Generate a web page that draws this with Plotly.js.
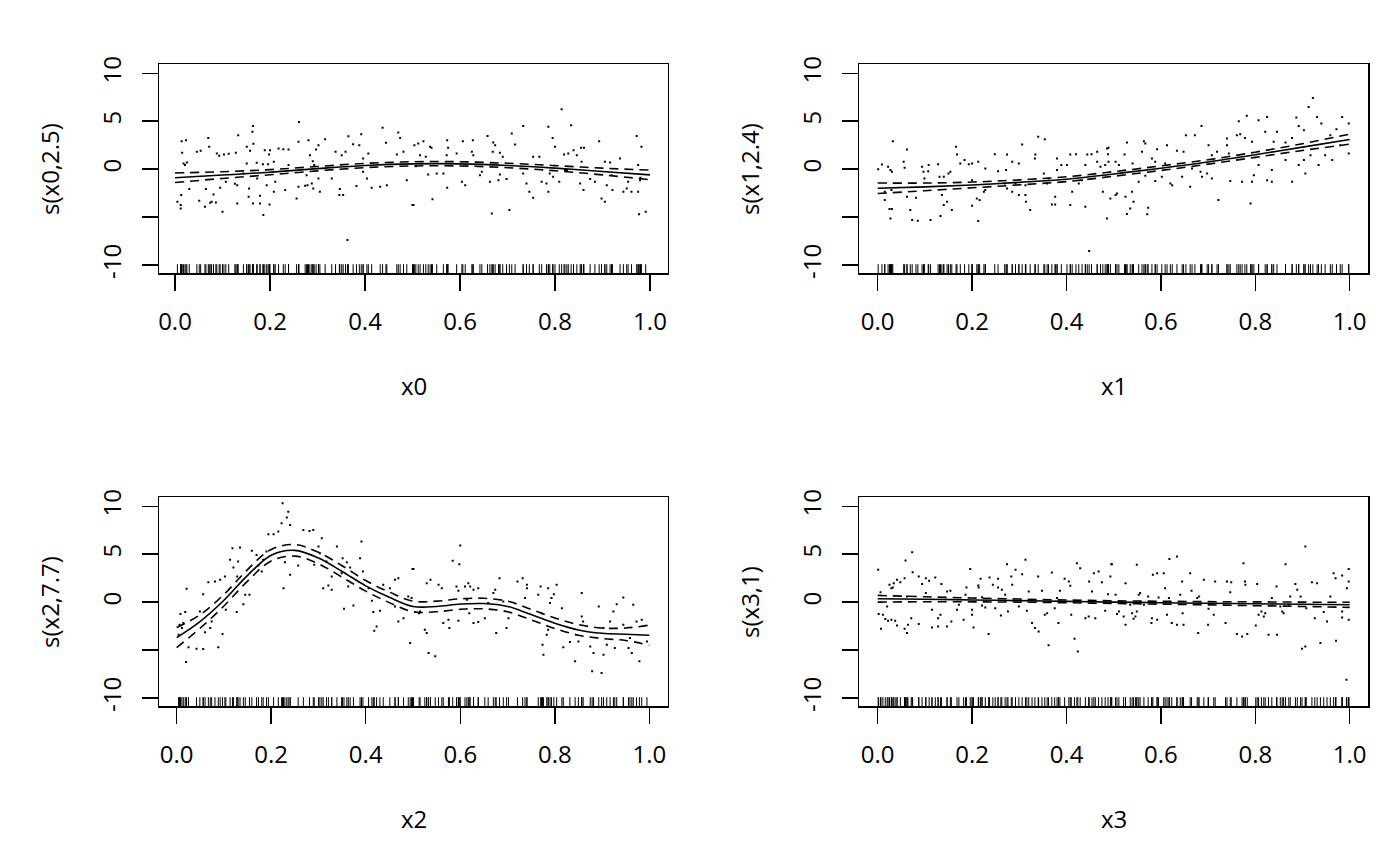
<!DOCTYPE html>
<html>
<head>
<meta charset="utf-8">
<script src="https://cdn.plot.ly/plotly-3.0.1.min.js"></script>
<style>
  html, body { margin: 0; padding: 0; background: #fff; }
  #gd { width: 1400px; height: 866px; }
</style>
</head>
<body>
<div id="gd"></div>
<script>
// partial residuals as [x, y]
const resid0 = [[.014,2.92],[.023,3.02],[.015,1.70],[.025,0.69],[.018,0.59],[.021,0.42],[.005,-3.40],[.012,-3.75],[.012,-4.10],[.013,-2.71],[.030,-2.08],[.051,-3.30],[.063,-3.92],[.074,-3.51],[.077,-3.40],[.086,-3.47],[.081,-2.64],[.065,-2.08],[.046,1.81],[.054,1.91],[.072,2.33],[.070,3.26],[.088,1.63],[.093,1.39],[.103,1.53],[.113,1.60],[.128,1.70],[.133,3.54],[.151,2.33],[.163,3.89],[.164,4.51],[.165,2.64],[.158,1.91],[.151,0.59],[.144,-0.45],[.131,-1.67],[.126,-1.53],[.107,-1.32],[.095,-1.94],[.100,-4.44],[.131,-3.58],[.155,-2.88],[.156,-2.01],[.164,-3.58],[.179,-3.58],[.186,-4.79],[.179,-2.78],[.199,-3.68],[.193,-1.67],[.173,-0.97],[.172,0.66],[.185,0.52],[.196,0.52],[.198,1.53],[.189,1.98],[.200,1.98],[.218,2.15],[.228,2.08],[.239,2.05],[.208,0.76],[.211,-1.32],[.208,-2.36],[.232,-2.19],[.239,0.42],[.256,-3.06],[.261,4.93],[.260,2.85],[.281,3.02],[.302,2.50],[.297,2.05],[.316,3.13],[.284,1.46],[.290,0.83],[.293,0.42],[.277,-0.63],[.260,-1.84],[.274,-1.74],[.279,-1.67],[.288,-1.49],[.302,-0.97],[.291,-2.01],[.305,-2.36],[.330,-0.97],[.338,1.81],[.351,1.46],[.359,1.81],[.365,3.44],[.375,2.60],[.388,2.50],[.392,3.65],[.407,1.63],[.396,1.11],[.404,-0.97],[.396,-0.28],[.382,-1.77],[.347,-2.08],[.346,-2.71],[.354,-2.71],[.363,-7.40],[.414,-1.94],[.432,-1.84],[.446,-1.67],[.437,4.31],[.444,2.74],[.467,1.53],[.474,3.26],[.470,3.82],[.481,1.81],[.488,-1.15],[.504,2.50],[.512,2.67],[.502,-3.75],
[.523,2.92],[.537,2.33],[.540,2.22],[.528,1.28],[.516,1.46],[.507,0.31],[.533,-0.56],[.551,-0.45],[.565,-0.45],[.572,1.46],[.573,3.02],[.575,2.22],[.593,1.63],[.606,2.92],[.627,3.02],[.625,1.81],[.628,1.46],[.642,-0.63],[.646,-0.28],[.658,3.47],[.670,2.78],[.674,2.50],[.669,1.81],[.684,1.70],[.690,1.28],[.684,-0.56],[.698,-1.04],[.681,-1.15],[.663,-1.32],[.604,-1.32],[.611,-1.67],[.573,-1.94],[.542,-3.13],[.500,-3.75],[.667,-4.62],[.704,-4.27],[.709,3.72],[.733,4.51],[.716,2.57],[.733,-0.45],[.754,1.28],[.767,1.28],[.786,4.41],[.795,3.26],[.800,2.33],[.789,-0.45],[.796,-0.80],[.772,-1.32],[.782,-1.49],[.740,-1.49],[.746,-2.36],[.754,-2.99],[.786,-2.36],[.814,6.25],[.834,4.58],[.819,1.53],[.828,1.63],[.839,1.98],[.846,1.46],[.855,2.22],[.861,2.22],[.856,0.76],[.825,-0.10],[.809,-1.32],[.821,-0.10],[.853,-1.49],[.860,-2.19],[.874,-1.04],[.884,-1.32],[.893,2.92],[.905,0.76],[.916,0.69],[.937,1.11],[.919,-0.63],[.909,-1.67],[.898,-3.06],[.905,-3.40],[.921,-2.19],[.944,-2.36],[.951,-2.01],[.961,-2.36],[.975,-2.36],[.954,-1.32],[.979,-1.15],[.972,3.47],[.982,2.33],[.975,0.42],[.980,-0.90],[.977,-4.72],[.991,-4.44]];

const resid1 = [[.001,0.00],[.009,0.49],[.022,0.24],[.027,-0.10],[.030,-0.28],[.032,2.92],[.062,2.05],[.055,0.76],[.057,0.14],[.029,-2.19],[.015,-2.36],[.015,-3.23],[.025,-4.17],[.030,-4.17],[.027,-5.14],[.062,-2.88],[.069,-4.27],[.073,-5.31],[.085,-5.38],[.081,-2.99],[.094,0.24],[.097,-0.28],[.107,-0.21],[.099,-0.97],[.108,0.42],[.112,-5.31],[.128,0.52],[.131,-0.80],[.133,-4.90],[.140,-3.75],[.147,-3.40],[.136,-2.71],[.150,-0.45],[.154,-0.28],[.140,-0.80],[.157,-4.27],[.166,2.33],[.168,1.53],[.175,0.59],[.184,0.94],[.193,0.52],[.200,0.59],[.213,0.76],[.200,-1.15],[.210,-3.06],[.216,-3.23],[.225,-2.36],[.228,-2.19],[.213,-5.42],[.200,-3.82],[.228,0.07],[.248,1.56],[.255,-0.21],[.272,-0.10],[.274,1.53],[.285,0.76],[.299,0.59],[.306,2.57],[.314,-3.40],[.323,-4.27],[.313,-2.71],[.299,-2.71],[.285,-2.36],[.274,-2.01],[.269,-1.49],[.292,-1.49],[.313,-1.67],[.334,1.53],[.340,3.37],[.354,3.13],[.333,1.11],[.352,-0.45],[.362,-0.97],[.369,-3.68],[.376,-3.68],[.376,-2.88],[.359,-1.49],[.380,1.11],[.389,0.42],[.401,0.42],[.380,-0.10],[.408,-3.75],[.408,1.53],[.420,1.56],[.412,-2.36],[.426,-1.49],[.433,-1.15],[.440,0.42],[.444,1.53],[.453,1.56],[.465,1.81],[.465,0.76],[.472,0.24],[.477,-2.36],[.486,2.15],[.489,2.22],[.488,1.56],[.489,0.76],[.482,0.42],[.493,-3.06],[.486,-5.14],[.504,-2.71],[.511,0.42],[.448,-8.54],[.440,-3.92],
[.504,0.76],[.523,1.53],[.540,0.59],[.528,2.78],[.564,2.92],[.567,2.67],[.560,1.81],[.581,1.11],[.588,0.76],[.592,2.08],[.609,0.59],[.613,2.50],[.634,1.91],[.648,1.81],[.653,3.54],[.672,3.54],[.686,4.51],[.701,2.50],[.708,1.46],[.719,1.81],[.740,3.19],[.740,2.50],[.744,1.63],[.761,3.54],[.768,3.65],[.765,5.00],[.782,5.56],[.778,3.26],[.793,2.85],[.807,5.10],[.825,5.45],[.821,3.89],[.839,2.85],[.846,3.89],[.864,2.78],[.878,3.26],[.887,5.38],[.892,4.51],[.903,4.06],[.913,6.49],[.922,7.43],[.931,5.45],[.940,4.76],[.959,3.54],[.972,4.17],[.984,5.45],[.998,4.76],[.998,1.63],[.980,2.50],[.963,0.94],[.948,1.46],[.934,0.42],[.917,1.46],[.903,0.94],[.892,0.42],[.878,-1.32],[.864,0.94],[.835,-0.10],[.825,-1.15],[.835,-1.32],[.807,0.42],[.797,-0.63],[.793,-1.32],[.772,-1.32],[.747,-1.25],[.722,-3.23],[.708,-0.97],[.698,-0.45],[.684,-0.28],[.687,-0.80],[.666,0.07],[.662,-1.84],[.645,-0.80],[.624,-1.67],[.620,-1.49],[.602,-0.80],[.588,-1.25],[.567,-0.69],[.553,-1.32],[.539,-2.36],[.525,-2.88],[.542,-3.40],[.535,-4.10],[.528,-4.69],[.571,-4.72],[.573,-4.03],[.507,-2.53],[.790,-3.58],[.906,-0.45]];

const resid2 = [[.008,-1.25],[.018,-1.04],[.014,-2.19],[.006,-2.36],[.011,-2.71],[.004,-3.40],[.025,-4.72],[.020,-6.25],[.021,1.39],[.042,-4.86],[.056,-4.90],[.071,-2.71],[.074,-2.01],[.060,-3.13],[.049,-0.97],[.056,0.83],[.067,2.08],[.081,2.15],[.092,2.33],[.102,2.67],[.113,4.41],[.118,5.63],[.134,5.69],[.130,4.24],[.120,3.61],[.128,2.67],[.104,-0.80],[.097,-3.33],[.088,-4.72],[.127,-1.04],[.141,-0.21],[.145,0.76],[.154,0.76],[.159,5.35],[.169,4.93],[.173,3.82],[.180,3.19],[.183,4.41],[.190,5.28],[.194,7.08],[.205,7.08],[.215,7.36],[.222,8.23],[.224,10.31],[.233,8.82],[.236,9.44],[.240,8.06],[.229,4.17],[.226,1.46],[.240,2.85],[.257,3.82],[.268,7.53],[.281,7.43],[.289,7.53],[.291,3.89],[.300,5.80],[.307,6.67],[.303,5.10],[.310,1.46],[.321,1.74],[.328,1.28],[.317,4.24],[.328,2.67],[.339,5.80],[.351,4.58],[.360,4.17],[.367,3.61],[.349,3.02],[.354,-0.69],[.363,1.63],[.374,-0.35],[.391,6.32],[.388,4.58],[.394,3.19],[.406,1.46],[.413,0.14],[.416,-1.04],[.423,-2.53],[.418,-2.99],[.430,-0.90],[.437,1.81],[.451,1.46],[.462,2.33],[.469,2.50],[.462,-0.45],[.469,-2.01],[.480,-1.67],[.490,0.59],[.494,-4.27],[.501,3.47],[.513,-1.15],
[.499,3.47],[.497,0.42],[.525,-2.88],[.529,-3.23],[.533,-5.31],[.547,-5.66],[.515,-0.97],[.537,2.33],[.529,1.98],[.554,1.81],[.561,1.46],[.564,-2.19],[.577,-2.71],[.575,-1.84],[.584,4.31],[.598,3.96],[.600,5.90],[.592,1.63],[.596,1.18],[.610,1.63],[.617,1.98],[.621,1.63],[.614,0.24],[.638,1.46],[.628,1.28],[.619,-1.15],[.596,-1.94],[.628,-2.19],[.638,-2.08],[.652,-1.67],[.659,-0.10],[.670,0.94],[.674,1.28],[.676,-3.23],[.683,2.50],[.691,0.07],[.698,-2.71],[.702,-1.67],[.721,2.15],[.732,2.50],[.741,1.81],[.737,0.42],[.741,1.46],[.765,0.76],[.770,1.63],[.786,1.46],[.793,0.42],[.804,1.81],[.798,0.83],[.772,-1.15],[.774,-4.44],[.776,-5.49],[.783,-3.40],[.786,-2.88],[.790,-0.10],[.815,-0.63],[.818,-4.72],[.832,-4.17],[.843,-6.18],[.850,-4.10],[.857,0.94],[.857,-1.49],[.860,-2.01],[.875,-4.62],[.879,-7.22],[.882,-5.31],[.893,-0.45],[.903,-2.71],[.903,-5.49],[.910,-4.44],[.899,-7.40],[.917,-2.01],[.924,-0.97],[.927,-4.79],[.931,-0.21],[.945,0.49],[.945,-2.36],[.956,-4.79],[.959,-3.75],[.966,-0.28],[.963,-5.31],[.973,-2.01],[.979,-6.18],[.984,-1.84],[.995,-4.10]];

const resid3 = [[.001,3.37],[.006,1.04],[.002,-1.25],[.011,-1.32],[.016,-1.77],[.022,-1.94],[.029,-1.84],[.007,-2.78],[.020,-0.45],[.025,1.81],[.029,1.46],[.032,1.53],[.034,1.98],[.041,2.33],[.048,2.08],[.057,2.50],[.059,4.34],[.073,5.21],[.074,3.13],[.062,0.59],[.041,-2.43],[.037,-1.94],[.057,-2.78],[.062,-3.23],[.064,-2.36],[.071,-1.67],[.087,2.67],[.087,-2.29],[.094,1.88],[.102,0.94],[.102,2.50],[.109,2.22],[.115,-0.80],[.115,-2.64],[.128,-2.53],[.128,-1.67],[.133,-1.32],[.135,1.88],[.122,2.57],[.147,1.11],[.154,1.18],[.147,-2.53],[.156,-2.01],[.168,-0.80],[.172,-0.28],[.182,-1.84],[.188,1.53],[.186,0.76],[.196,3.47],[.200,-0.80],[.203,-2.64],[.200,-1.32],[.213,1.74],[.214,1.53],[.218,2.43],[.221,0.52],[.221,-0.35],[.228,-0.56],[.235,-3.33],[.237,2.57],[.244,1.81],[.255,2.43],[.255,1.53],[.249,-0.63],[.261,-1.39],[.263,1.28],[.270,0.76],[.274,3.96],[.276,-0.97],[.283,2.67],[.285,1.81],[.292,3.37],[.299,-0.45],[.306,2.92],[.313,4.41],[.316,-0.90],[.320,1.11],[.327,-2.19],[.333,-2.71],[.340,2.67],[.341,-3.06],[.348,1.18],[.354,-1.32],[.359,-1.15],[.362,-4.51],[.369,3.09],[.375,-0.63],[.380,0.42],[.383,-2.19],[.386,1.18],[.396,2.43],[.405,2.15],[.408,1.70],[.410,-1.32],[.417,-3.82],[.422,4.06],[.424,-5.14],[.429,3.54],[.440,-1.67],[.447,-1.49],[.448,2.15],[.454,1.11],[.458,3.02],[.461,-1.67],[.468,3.19],[.475,2.08],[.482,-0.90],[.488,0.83],[.493,2.67],[.495,3.96],[.504,0.76],[.507,-1.25],
[.496,3.96],[.511,-0.97],[.521,-1.49],[.525,-2.36],[.535,-0.28],[.539,-1.15],[.542,-1.74],[.546,-1.49],[.549,-0.97],[.553,0.76],[.556,0.94],[.549,3.89],[.525,1.98],[.564,-0.28],[.573,0.59],[.583,2.85],[.592,3.02],[.581,-1.67],[.580,-2.19],[.592,-1.84],[.595,0.49],[.606,3.02],[.609,1.46],[.613,-1.32],[.617,0.42],[.618,4.51],[.634,4.76],[.623,-2.19],[.634,-2.36],[.641,0.76],[.645,2.15],[.646,-1.15],[.648,-2.36],[.662,3.02],[.665,1.18],[.677,0.42],[.681,0.59],[.679,-3.23],[.691,2.33],[.700,-2.36],[.701,-0.69],[.712,-1.32],[.715,2.15],[.737,-2.19],[.740,2.15],[.749,2.08],[.747,1.04],[.761,-3.33],[.772,-3.58],[.775,4.06],[.778,2.15],[.779,1.81],[.783,-3.33],[.804,1.88],[.801,-2.43],[.807,-1.32],[.813,-0.97],[.818,-1.49],[.821,-1.15],[.828,-3.40],[.835,0.42],[.845,1.63],[.846,-3.40],[.853,-0.45],[.857,-0.97],[.860,-1.15],[.864,3.96],[.871,-0.28],[.874,0.59],[.885,1.88],[.889,1.28],[.896,0.59],[.899,-4.86],[.906,5.80],[.906,-4.62],[.908,-0.63],[.920,2.08],[.926,-1.67],[.931,1.98],[.938,-4.27],[.945,-1.04],[.952,-2.01],[.959,0.59],[.966,3.02],[.970,2.50],[.971,-4.03],[.984,-1.60],[.984,2.78],[.998,2.15],[.994,1.46],[.998,3.47],[.998,-1.84],[.993,-8.09],[.984,-0.97]];

// fitted smooths with +-2 se bands
const grid11 = [0, 0.1, 0.2, 0.3, 0.4, 0.5, 0.6, 0.7, 0.8, 0.9, 1.0];
const grid21 = [0, .05, .1, .15, .2, .25, .3, .35, .4, .45, .5, .55, .6, .65, .7, .75, .8, .85, .9, .95, 1.0];

const fit0 = [-0.9, -0.62, -0.32, 0.05, 0.38, 0.55, 0.55, 0.38, 0.1, -0.25, -0.6];
const up0  = [-0.4, -0.27, -0.05, 0.28, 0.6, 0.77, 0.77, 0.61, 0.37, 0.1, -0.1];
const lo0  = [-1.4, -0.97, -0.59, -0.18, 0.16, 0.33, 0.33, 0.15, -0.17, -0.6, -1.1];

const fit1 = [-2.0, -1.85, -1.65, -1.38, -1.05, -0.5, 0.1, 0.75, 1.5, 2.3, 3.1];
const up1  = [-1.45, -1.45, -1.35, -1.12, -0.8, -0.26, 0.34, 0.98, 1.77, 2.65, 3.65];
const lo1  = [-2.55, -2.25, -1.95, -1.64, -1.3, -0.74, -0.14, 0.52, 1.23, 1.95, 2.6];

const fit2 = [-3.7, -2.0, 0.2, 2.8, 4.9, 5.4, 4.6, 3.2, 1.7, 0.5, -0.45, -0.45, -0.2, -0.15, -0.45, -1.3, -2.2, -2.9, -3.25, -3.35, -3.45];
const up2  = [-2.65, -1.3, 0.8, 3.4, 5.5, 6.0, 5.2, 3.8, 2.25, 1.05, 0.1, 0.1, 0.35, 0.4, 0.1, -0.75, -1.65, -2.35, -2.7, -2.7, -2.4];
const lo2  = [-4.75, -2.7, -0.4, 2.2, 4.3, 4.8, 4.0, 2.6, 1.15, -0.05, -1.0, -1.0, -0.75, -0.7, -1.0, -1.85, -2.75, -3.45, -3.8, -4.0, -4.5];

const fit3 = [0.35, 0.3, 0.23, 0.16, 0.08, 0.0, -0.06, -0.12, -0.17, -0.22, -0.28];
const up3  = [0.7, 0.56, 0.43, 0.32, 0.22, 0.14, 0.09, 0.05, 0.03, 0.0, -0.02];
const lo3  = [0.0, 0.04, 0.03, 0.0, -0.06, -0.14, -0.21, -0.29, -0.37, -0.45, -0.55];

const xLabels = ['x0', 'x1', 'x2', 'x3'];
const yLabels = ['s(x0,2.5)', 's(x1,2.4)', 's(x2,7.7)', 's(x3,1)'];
const yTicks = [-10, -5, 0, 5, 10];
const yTickText = ['-10', '', '0', '5', '10'];
const xTicks = [0, 0.2, 0.4, 0.6, 0.8, 1.0];
const xTickText = ['0.0', '0.2', '0.4', '0.6', '0.8', '1.0'];

const panels = [
  {res: resid0, gx: grid11, fit: fit0, up: up0, lo: lo0},
  {res: resid1, gx: grid11, fit: fit1, up: up1, lo: lo1},
  {res: resid2, gx: grid21, fit: fit2, up: up2, lo: lo2},
  {res: resid3, gx: grid11, fit: fit3, up: up3, lo: lo3}
];

// plot box geometry in pixels (1400 x 866 page)
const W = 1400, H = 866;
const boxX = [[159.3, 667.7], [859.3, 1368], [159.3, 667.7], [859.3, 1368]];
const boxY = [[64, 273.3], [64, 273.3], [497, 706.3], [497, 706.3]];
const xRanges = [[-0.0331, 1.0373], [-0.039, 1.0388], [-0.0368, 1.0389], [-0.039, 1.0388]];
const yRange = [-10.87, 10.97];

const font = {family: 'Open Sans, Noto Sans, sans-serif', size: 24, color: '#000'};
const traces = [];
const layout = {
  width: W, height: H,
  margin: {l: 0, r: 0, t: 0, b: 0},
  paper_bgcolor: '#fff', plot_bgcolor: '#fff',
  showlegend: false,
  font: font,
  annotations: []
};

panels.forEach(function (p, i) {
  const n = i + 1;
  const xa = n === 1 ? 'x' : 'x' + n;
  const ya = n === 1 ? 'y' : 'y' + n;
  const xs = p.res.map(d => d[0]);
  const ys = p.res.map(d => d[1]);

  // residual points
  traces.push({x: xs, y: ys, xaxis: xa, yaxis: ya, type: 'scatter', mode: 'markers',
    marker: {symbol: 'square', size: 2, color: '#000', line: {width: 0}}, hoverinfo: 'skip'});
  // rug along the bottom edge
  traces.push({x: xs, y: xs.map(() => yRange[0]), xaxis: xa, yaxis: ya, type: 'scatter', mode: 'markers',
    marker: {symbol: 'line-ns', size: 13, color: '#000', line: {width: 1, color: '#000'}}, hoverinfo: 'skip'});
  // smooth and bands
  traces.push({x: p.gx, y: p.fit, xaxis: xa, yaxis: ya, type: 'scatter', mode: 'lines',
    line: {color: '#000', width: 1.6, shape: 'spline', smoothing: 1}});
  traces.push({x: p.gx, y: p.up, xaxis: xa, yaxis: ya, type: 'scatter', mode: 'lines',
    line: {color: '#000', width: 1.6, dash: '9px,6px', shape: 'spline', smoothing: 1}});
  traces.push({x: p.gx, y: p.lo, xaxis: xa, yaxis: ya, type: 'scatter', mode: 'lines',
    line: {color: '#000', width: 1.6, dash: '9px,6px', shape: 'spline', smoothing: 1}});

  const bx = boxX[i], by = boxY[i];
  layout['xaxis' + (n === 1 ? '' : n)] = {
    domain: [bx[0] / W, bx[1] / W], range: xRanges[i], anchor: ya,
    tickvals: xTicks, ticktext: xTickText, ticks: 'outside', ticklen: 16, tickwidth: 1.5, tickcolor: '#000',
    ticklabelstandoff: 10,
    showline: true, mirror: true, linecolor: '#000', linewidth: 1.5,
    showgrid: false, zeroline: false, tickfont: font
  };
  layout['yaxis' + (n === 1 ? '' : n)] = {
    domain: [1 - by[1] / H, 1 - by[0] / H], range: yRange, anchor: xa,
    tickvals: yTicks, ticktext: yTickText, tickangle: -90, ticks: 'outside', ticklen: 16, tickwidth: 1.5, tickcolor: '#000',
    ticklabelstandoff: 11, ticklabelshift: -3.5,
    showline: true, mirror: true, linecolor: '#000', linewidth: 1.5,
    showgrid: false, zeroline: false, tickfont: font
  };

  // axis titles placed as in the base R layout
  layout.annotations.push({text: xLabels[i], xref: 'paper', yref: 'paper',
    x: (bx[0] + bx[1]) / 2 / W, y: 1 - (by[1] + 112) / H, xanchor: 'center', yanchor: 'middle',
    showarrow: false, font: font});
  layout.annotations.push({text: yLabels[i], xref: 'paper', yref: 'paper', textangle: -90,
    x: (bx[0] - 110) / W, y: 1 - (by[0] + by[1]) / 2 / H, xanchor: 'center', yanchor: 'middle',
    showarrow: false, font: font});
});

Plotly.newPlot('gd', traces, layout, {staticPlot: true});
</script>
</body>
</html>
